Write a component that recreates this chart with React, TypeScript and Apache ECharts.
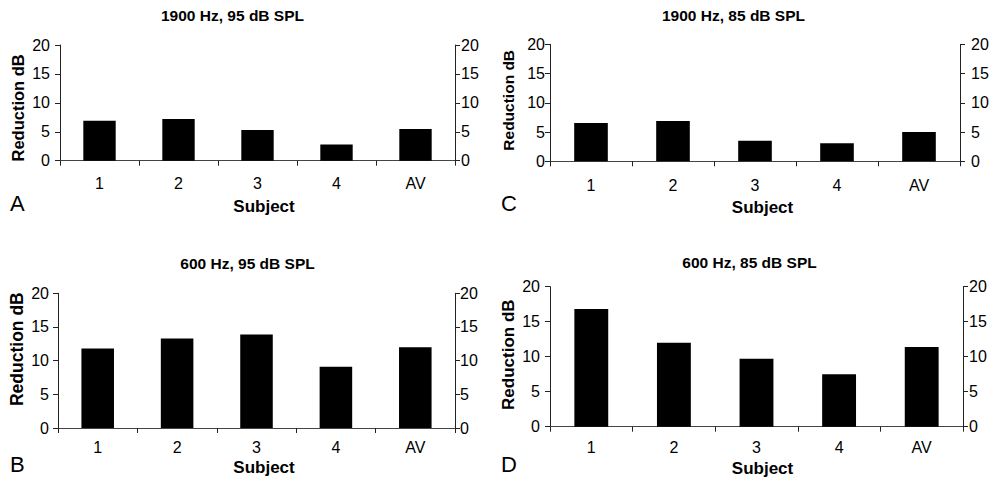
import React, { useEffect, useRef } from "react";
import * as echarts from "echarts";

const categories = ["1", "2", "3", "4", "AV"];
const panelTitles = ["1900 Hz, 95 dB SPL", "1900 Hz, 85 dB SPL", "600 Hz, 95 dB SPL", "600 Hz, 85 dB SPL"];
const panelLetters = ["A", "C", "B", "D"];
const valuesA = [6.9, 7.2, 5.3, 2.8, 5.5];
const valuesC = [6.55, 6.9, 3.5, 3.1, 5.0];
const valuesB = [11.8, 13.3, 13.9, 9.1, 12.0];
const valuesD = [16.8, 12.0, 9.7, 7.5, 11.4];
const yMin = 0;
const yMax = 20;
const yStep = 5;
const xAxisName = "Subject";
const yAxisName = "Reduction dB";

const FONT = "'Liberation Sans', Arial, Helvetica, sans-serif";

// layout per panel (A, C, B, D)
const layout = [
  { left: 60, top: 45, width: 395, height: 115.7, titleX: 232.5, titleY: 15, letterX: 10, letterY: 203.5,
    xLabelMargin: 15, xNameGap: 37, xNamePad: 13, yLabelL: 10, yLabelR: 6, yNameGap: 34, yNamePad: [0, 10, 0, 0], yNameSize: 16.5 },
  { left: 550, top: 44.3, width: 410, height: 117, titleX: 733.5, titleY: 15, letterX: 501, letterY: 203.5,
    xLabelMargin: 16, xNameGap: 38, xNamePad: 15, yLabelL: 5, yLabelR: 11, yNameGap: 34, yNamePad: [0, 0, 0, 5], yNameSize: 15.5 },
  { left: 58, top: 293.3, width: 397, height: 134.7, titleX: 247.5, titleY: 263, letterX: 10, letterY: 464.5,
    xLabelMargin: 11, xNameGap: 31, xNamePad: 15, yLabelL: 9, yLabelR: 5, yNameGap: 32, yNamePad: [0, 0, 0, 23], yNameSize: 17.5 },
  { left: 550, top: 286.7, width: 413, height: 140, titleX: 749.5, titleY: 262, letterX: 501, letterY: 464.5,
    xLabelMargin: 12.5, xNameGap: 33, xNamePad: 12, yLabelL: 10, yLabelR: 6, yNameGap: 33, yNamePad: [0, 0, 0, 4], yNameSize: 17 },
];

const seriesValues = [valuesA, valuesC, valuesB, valuesD];

export default function App() {
  const ref = useRef<HTMLDivElement>(null);

  useEffect(() => {
    if (!ref.current) return;
    const chart = echarts.init(ref.current, undefined, { renderer: "svg" });

    const grids: any[] = [];
    const xAxes: any[] = [];
    const yAxes: any[] = [];
    const series: any[] = [];
    const graphics: any[] = [];

    layout.forEach((p, i) => {
      grids.push({ left: p.left, top: p.top, width: p.width, height: p.height, containLabel: false });
      xAxes.push({
        gridIndex: i,
        type: "category",
        data: categories,
        boundaryGap: true,
        name: xAxisName,
        nameLocation: "middle",
        nameGap: p.xNameGap,
        nameTextStyle: { fontFamily: FONT, fontWeight: "bold", fontSize: 17, color: "#000", padding: [0, 0, 0, p.xNamePad] },
        axisLine: { show: true, lineStyle: { color: "#444", width: 1 } },
        axisTick: { show: true, inside: false, length: 5, alignWithLabel: false, lineStyle: { color: "#222" } },
        axisLabel: { margin: p.xLabelMargin, fontFamily: FONT, fontSize: 16, color: "#000" },
        splitLine: { show: false },
      });
      const yBase = {
        gridIndex: i,
        type: "value",
        min: yMin,
        max: yMax,
        interval: yStep,
        splitLine: { show: false },
        axisLine: { show: true, onZero: false, lineStyle: { color: "#222", width: 1 } },
        axisTick: { show: true, inside: false, length: 5, lineStyle: { color: "#222" } },
      };
      yAxes.push({
        ...yBase,
        position: "left",
        name: yAxisName,
        nameLocation: "middle",
        nameGap: p.yNameGap,
        nameTextStyle: { fontFamily: FONT, fontWeight: "bold", fontSize: p.yNameSize, color: "#000", padding: p.yNamePad },
        axisLabel: { margin: p.yLabelL, fontFamily: FONT, fontSize: 16, color: "#000" },
      });
      yAxes.push({
        ...yBase,
        position: "right",
        axisLabel: { margin: p.yLabelR, fontFamily: FONT, fontSize: 16, color: "#000" },
      });
      series.push({
        type: "bar",
        xAxisIndex: i,
        yAxisIndex: i * 2,
        data: seriesValues[i],
        barWidth: "41%",
        itemStyle: { color: "#000" },
        silent: true,
      });
      graphics.push({
        type: "text",
        x: p.titleX,
        y: p.titleY,
        style: { text: panelTitles[i], fontFamily: FONT, fontWeight: "bold", fontSize: 15.5, fill: "#000", textAlign: "center", textVerticalAlign: "middle" },
      });
      graphics.push({
        type: "text",
        x: p.letterX,
        y: p.letterY,
        style: { text: panelLetters[i], fontFamily: FONT, fontSize: 22, fill: "#000", textAlign: "left", textVerticalAlign: "middle" },
      });
    });

    chart.setOption({
      animation: false,
      backgroundColor: "#fff",
      grid: grids,
      xAxis: xAxes,
      yAxis: yAxes,
      series,
      graphic: graphics,
    });

    return () => chart.dispose();
  }, []);

  return (
    <div
      ref={ref}
      style={{ position: "fixed", left: 0, top: 0, width: 996, height: 479, background: "#fff" }}
    />
  );
}
